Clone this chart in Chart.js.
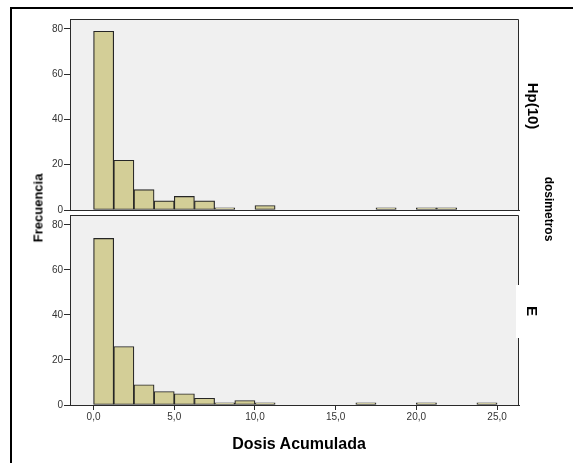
<!DOCTYPE html>
<html>
<head>
<meta charset="utf-8">
<script src="https://cdn.jsdelivr.net/npm/chart.js@4"></script>
<style>
  html, body { margin:0; padding:0; background:#fff; }
  #wrap { position:relative; width:573px; height:463px; overflow:hidden; font-family:"Liberation Sans", Arial, sans-serif; }
  canvas { position:absolute; left:0; top:0; }
  .lbl { position:absolute; font-weight:bold; color:#000; white-space:nowrap; }
  .frameTop { position:absolute; left:10px; top:7px; width:563px; height:2px; background:#000; }
  .frameLeft { position:absolute; left:10px; top:7px; width:2px; height:456px; background:#000; }
</style>
</head>
<body>
<div id="wrap">
  <div class="frameTop"></div>
  <div class="frameLeft"></div>
  <canvas id="c1" width="573" height="463"></canvas>
  <canvas id="c2" width="573" height="463"></canvas>
  <div style="position:absolute;left:516px;top:285px;width:34px;height:53px;background:#fff;"></div>
  <div class="lbl" id="ytitle" style="left:38px;top:208px;font-size:13px;transform:translate(-50%,-50%) rotate(-90deg);">Frecuencia</div>
  <div class="lbl" id="xtitle" style="left:299px;top:444px;font-size:16px;transform:translate(-50%,-50%);">Dosis Acumulada</div>
  <div class="lbl" id="s1" style="left:533px;top:106px;font-size:15px;transform:translate(-50%,-50%) rotate(90deg);">Hp(10)</div>
  <div class="lbl" id="s2" style="left:532px;top:311px;font-size:15px;transform:translate(-50%,-50%) rotate(90deg);">E</div>
  <div class="lbl" id="s3" style="left:549px;top:209px;font-size:12px;transform:translate(-50%,-50%) rotate(90deg);">dosimetros</div>
</div>
<script>
// ---- data ----
const binWidth = 1.25;
const binLows = [0, 1.25, 2.5, 3.75, 5, 6.25, 7.5, 8.75, 10, 11.25,
                 12.5, 13.75, 15, 16.25, 17.5, 18.75, 20, 21.25, 22.5, 23.75];
const hp10Counts = [79, 22, 9, 4, 6, 4, 1, null, 2, null,
                    null, null, null, null, 1, null, 1, 1, null, null];
const eCounts    = [74, 26, 9, 6, 5, 3, 1, 2, 1, null,
                    null, null, null, 1, null, null, 1, null, null, 1];
const xTicks = [0, 5, 10, 15, 20, 25];
const yTicks = [0, 20, 40, 60, 80];
const panelNames = ["Hp(10)", "E"];

const xMin = -1.46, xMax = 26.36, yMax = 84.4;
const FONT = "'Liberation Sans', Arial, sans-serif";
const BAR_FILL = '#d3ce97', BAR_EDGE = '#262626', AXIS = '#2a2a2a';

const panelPlugin = {
  id: 'panel',
  beforeDraw(chart) {
    const a = chart.chartArea, ctx = chart.ctx;
    ctx.save();
    ctx.fillStyle = '#f0f0f0';
    ctx.fillRect(a.left, a.top, a.right - a.left, a.bottom - a.top);
    ctx.restore();
  },
  afterDraw(chart) {
    const a = chart.chartArea, ctx = chart.ctx;
    ctx.save();
    ctx.strokeStyle = AXIS;
    ctx.lineWidth = 1;
    ctx.beginPath();
    ctx.moveTo(a.left + 0.5, a.bottom);
    ctx.lineTo(a.left + 0.5, a.top + 0.5);
    ctx.lineTo(a.right - 0.5, a.top + 0.5);
    ctx.lineTo(a.right - 0.5, a.bottom);
    ctx.stroke();
    ctx.restore();
  }
};

function makeChart(id, counts, pad, showXLabels) {
  const data = binLows.map((lo, i) => ({ x: lo + binWidth / 2, y: counts[i] }));
  return new Chart(document.getElementById(id), {
    type: 'bar',
    data: { datasets: [{
      data,
      backgroundColor: BAR_FILL,
      borderColor: BAR_EDGE,
      borderWidth: 1.2,
      borderSkipped: false,
      barPercentage: 1,
      categoryPercentage: 1
    }] },
    options: {
      responsive: false,
      animation: false,
      events: [],
      layout: { padding: pad },
      plugins: { legend: { display: false }, tooltip: { enabled: false }, title: { display: false } },
      scales: {
        x: {
          type: 'linear',
          offset: false,
          min: xMin, max: xMax,
          afterBuildTicks: s => { s.ticks = xTicks.map(v => ({ value: v })); },
          afterFit: s => { s.height = showXLabels ? 22 : 0; },
          grid: { offset: false, drawOnChartArea: false, drawTicks: showXLabels, tickLength: 5, color: AXIS },
          border: { display: true, color: AXIS, width: 1 },
          ticks: {
            display: showXLabels,
            padding: 1,
            color: '#333',
            font: { family: FONT, size: 10 },
            maxRotation: 0,
            callback: v => v.toFixed(1).replace('.', ',')
          }
        },
        y: {
          min: 0, max: yMax,
          afterBuildTicks: s => { s.ticks = yTicks.map(v => ({ value: v })); },
          afterFit: s => { s.width = 70; },
          grid: { drawOnChartArea: false, drawTicks: true, tickLength: 6, color: AXIS },
          border: { display: true, color: AXIS, width: 1 },
          ticks: {
            padding: 1,
            color: '#333',
            font: { family: FONT, size: 10 }
          }
        }
      }
    },
    plugins: [panelPlugin]
  });
}

makeChart('c1', hp10Counts, { top: 19, right: 54, bottom: 253, left: 0 }, false);
makeChart('c2', eCounts, { top: 215, right: 54, bottom: 36, left: 0 }, true);
</script>
</body>
</html>
